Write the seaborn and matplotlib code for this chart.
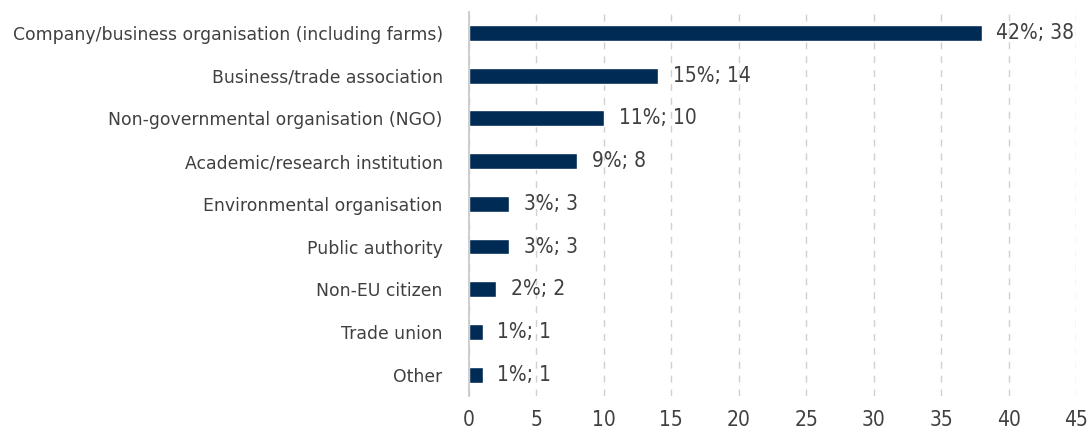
import seaborn as sns
import matplotlib.pyplot as plt
import pandas as pd

categories = [
    "Company/business organisation (including farms)",
    "Business/trade association",
    "Non-governmental organisation (NGO)",
    "Academic/research institution",
    "Environmental organisation",
    "Public authority",
    "Non-EU citizen",
    "Trade union",
    "Other",
]
counts = [38, 14, 10, 8, 3, 3, 2, 1, 1]
shares = [42, 15, 11, 9, 3, 3, 2, 1, 1]
x_ticks = [0, 5, 10, 15, 20, 25, 30, 35, 40, 45]

sns.set_theme(style="white")
plt.rcParams['font.family'] = ['DejaVu Sans']
plt.rcParams['font.stretch'] = 'condensed'

bar_color = "#002b55"
text_color = "#404040"

df = pd.DataFrame({"Category": categories, "Count": counts, "Share": shares})

fig = plt.figure(figsize=(10.89, 4.32), dpi=100)
ax = fig.add_axes([0.4307, 0.0833, 0.5574, 0.8898])

sns.barplot(data=df, y="Category", x="Count", color=bar_color,
            width=0.37, saturation=1, ax=ax, zorder=3)

# value labels "share%; count"
for i, (c, s) in enumerate(zip(counts, shares)):
    ax.text(c + 1.1, i, f"{s}%; {c}", va="center", ha="left",
            fontsize=15, color=text_color, zorder=4)

ax.set_xlim(0, 45)
ax.set_xticks(x_ticks)
ax.set_ylim(len(categories) - 0.5, -0.5)
ax.xaxis.grid(True, linestyle=(0, (5, 5)), color="#d0d0d0", linewidth=1)
ax.yaxis.grid(False)
ax.set_xlabel("")
ax.set_ylabel("")
for side in ["top", "right", "bottom"]:
    ax.spines[side].set_visible(False)
ax.spines["left"].set_color("#c8c8c8")
ax.spines["left"].set_zorder(5)
ax.tick_params(axis="y", length=0, pad=19, labelsize=12.4, labelcolor=text_color)
ax.tick_params(axis="x", length=0, pad=10, labelsize=15, labelcolor=text_color)
for lab in ax.get_yticklabels():
    lab.set_fontstretch('normal')

fig.savefig("out.png", dpi=100)
